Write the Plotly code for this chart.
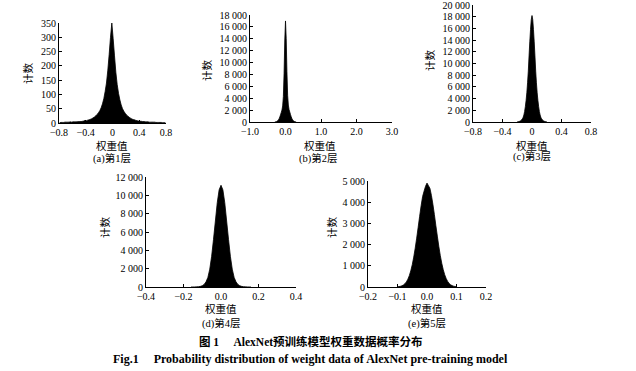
import plotly.graph_objects as go

W, H = 636, 371

# ---------------- data (histogram bin counts) ----------------
# (a) layer 1 : bins of 0.02 starting at centre -0.79
layer1_bin_start = -0.79
layer1_bin_width = 0.02
layer1_counts = [1, 2, 2, 2, 3, 3, 3, 3, 4, 3,
                 4, 4, 4, 4, 5, 5, 5, 6, 7, 9,
                 8, 10, 11, 13, 15, 18, 21, 25, 30, 36,
                 43, 53, 67, 85, 110, 140, 185, 240, 300,
                 350,
                 295, 235, 178, 135, 104, 81, 63, 50, 41, 34,
                 28, 24, 20, 17, 14, 12, 11, 9, 8, 7,
                 6, 6, 5, 5, 4, 4, 4, 3, 3, 3,
                 3, 3, 2, 2, 2, 2, 2, 1, 1, 1]

# (b) layer 2 : bins of 0.02 starting at centre -0.30
layer2_bin_start = -0.30
layer2_bin_width = 0.02
layer2_counts = [15, 30, 60, 110, 200, 340, 560, 850, 1200, 1600,
                 2000, 2700, 4300, 8200, 13800,
                 17000,
                 14000, 8500, 4500, 2850, 2100, 1680, 1260, 900, 590, 360,
                 215, 120, 65, 32, 16]

# (c) layer 3 : bins of 0.01 starting at centre -0.20
layer3_bin_start = -0.20
layer3_bin_width = 0.01
layer3_counts = [30, 45, 70, 110, 170, 260, 380, 550, 800, 1200,
                 1800, 2650, 3700, 5000, 6700, 8700, 11300, 13700, 15800, 17500,
                 18200,
                 17500, 15800, 13700, 11300, 8700, 6700, 5000, 3700, 2650, 1800,
                 1200, 800, 550, 380, 260, 170, 110, 70, 45, 30]

# (d) layer 4 : bins of 0.01 starting at centre -0.16
layer4_bin_start = -0.16
layer4_bin_width = 0.01
layer4_counts = [3, 5, 9, 18, 35, 70, 140, 280, 560, 1050,
                 1950, 3350, 5200, 7200, 9200, 10600,
                 11100,
                 10600, 9200, 7200, 5200, 3350, 1950, 1050, 560, 280, 140,
                 70, 35, 18, 9, 5, 3]

# (e) layer 5 : bins of 0.005 starting at centre -0.10
layer5_bin_start = -0.10
layer5_bin_width = 0.005
layer5_counts = [12, 20, 35, 58, 95, 154, 240, 364, 535, 762,
                 1052, 1410, 1830, 2305, 2815, 3335, 3830, 4265, 4520, 4750,
                 4900,
                 4780, 4650, 4320, 3900, 3420, 2900, 2400, 1920, 1490, 1120,
                 820, 580, 400, 265, 170, 105, 65, 40, 23, 14]

y_title = "计数"
x_title = "权重值"
subtitles = ["(a)第1层", "(b)第2层", "(c)第3层", "(d)第4层", "(e)第5层"]
caption_cn = "图 1\u2003\u00a0AlexNet预训练模型权重数据概率分布"
caption_en = "Fig.1\u2003\u00a0Probability distribution of weight data of AlexNet pre-training model"

# ---------------- layout helpers ----------------
SERIF = "Liberation Serif, Times New Roman, Noto Sans CJK SC, serif"
CJK = "Liberation Serif, Noto Sans CJK SC, serif"


def bin_centres(start, width, n):
    return [round(start + width * i, 5) for i in range(n)]


panels = [
    dict(start=layer1_bin_start, width=layer1_bin_width, counts=layer1_counts,
         box=(59, 23, 166, 123), xr=[-0.8, 0.8], xd=0.4, xf="", yr=[0, 350], yd=50, yf="d",
         ytitle=(28, 73), xtitle=(112, 146), sub=(112, 158)),
    dict(start=layer2_bin_start, width=layer2_bin_width, counts=layer2_counts,
         box=(250, 15, 392, 122), xr=[-1.0, 3.0], xd=1.0, xf=".1f", yr=[0, 18000], yd=2000, yf=",d",
         ytitle=(207, 70), xtitle=(320, 146), sub=(318, 158)),
    dict(start=layer3_bin_start, width=layer3_bin_width, counts=layer3_counts,
         box=(473, 5, 591, 122), xr=[-0.8, 0.8], xd=0.4, xf="", yr=[0, 20000], yd=2000, yf=",d",
         ytitle=(430, 60), xtitle=(532, 146), sub=(532, 157)),
    dict(start=layer4_bin_start, width=layer4_bin_width, counts=layer4_counts,
         box=(146, 177, 296, 287), xr=[-0.4, 0.4], xd=0.2, xf=".1f", yr=[0, 12000], yd=2000, yf=",d",
         ytitle=(105, 227), xtitle=(221, 309), sub=(221, 323)),
    dict(start=layer5_bin_start, width=layer5_bin_width, counts=layer5_counts,
         box=(368, 181, 486, 287), xr=[-0.2, 0.2], xd=0.1, xf=".1f", yr=[0, 5000], yd=1000, yf=",d",
         ytitle=(332, 227), xtitle=(427, 309), sub=(427, 323)),
]

fig = go.Figure()
layout = dict(
    width=W, height=H,
    margin=dict(l=0, r=0, t=0, b=0, pad=0, autoexpand=False),
    paper_bgcolor="white", plot_bgcolor="rgba(0,0,0,0)",
    separators=". ",
    showlegend=False,
    font=dict(family=SERIF, size=10, color="black"),
)
annotations = []


def px_x(x):
    return x / W


def px_y(y):
    return 1 - y / H


for i, p in enumerate(panels):
    k = "" if i == 0 else str(i + 1)
    n = len(p["counts"])
    # histogram silhouette: filled outline through the bin counts
    fig.add_trace(go.Scatter(
        x=bin_centres(p["start"], p["width"], n), y=p["counts"],
        mode="lines", line=dict(shape="linear", color="black", width=0.8, simplify=False),
        fill="tozeroy", fillcolor="#000000",
        xaxis="x" + k, yaxis="y" + k, hoverinfo="x+y",
    ))
    l, t, r, b = p["box"]
    common = dict(showline=True, linecolor="black", linewidth=1, ticks="inside", ticklen=3,
                  tickwidth=1, tickcolor="black", showgrid=False, zeroline=False,
                  automargin=False, layer="above traces", ticklabeloverflow="allow",
                  tickfont=dict(family=SERIF, size=10, color="black"), fixedrange=True)
    layout["xaxis" + k] = dict(common, domain=[px_x(l), px_x(r)], range=p["xr"], dtick=p["xd"],
                               tick0=0, tickformat=p["xf"], anchor="y" + k)
    layout["yaxis" + k] = dict(common, domain=[px_y(b), px_y(t)], range=p["yr"], dtick=p["yd"],
                               tick0=0, tickformat=p["yf"], anchor="x" + k)
    annotations.append(dict(text=y_title, x=px_x(p["ytitle"][0]), y=px_y(p["ytitle"][1]),
                            textangle=-90, font=dict(family=CJK, size=10.5)))
    annotations.append(dict(text=x_title, x=px_x(p["xtitle"][0]), y=px_y(p["xtitle"][1]),
                            font=dict(family=CJK, size=10.5)))
    annotations.append(dict(text=subtitles[i], x=px_x(p["sub"][0]), y=px_y(p["sub"][1]),
                            font=dict(family=CJK, size=10.5)))

annotations.append(dict(text="<b>" + caption_cn + "</b>", x=px_x(311), y=px_y(341),
                        font=dict(family=CJK, size=11.5)))
annotations.append(dict(text="<b>" + caption_en + "</b>", x=px_x(310), y=px_y(359),
                        font=dict(family=SERIF, size=12)))

for a in annotations:
    a.update(xref="paper", yref="paper", showarrow=False, xanchor="center", yanchor="middle")

layout["annotations"] = annotations
fig.update_layout(**layout)
fig.write_html(
    "out.html",
    config={"displayModeBar": False},
    post_script="document.body.style.margin='0';document.body.style.overflow='hidden';",
)
